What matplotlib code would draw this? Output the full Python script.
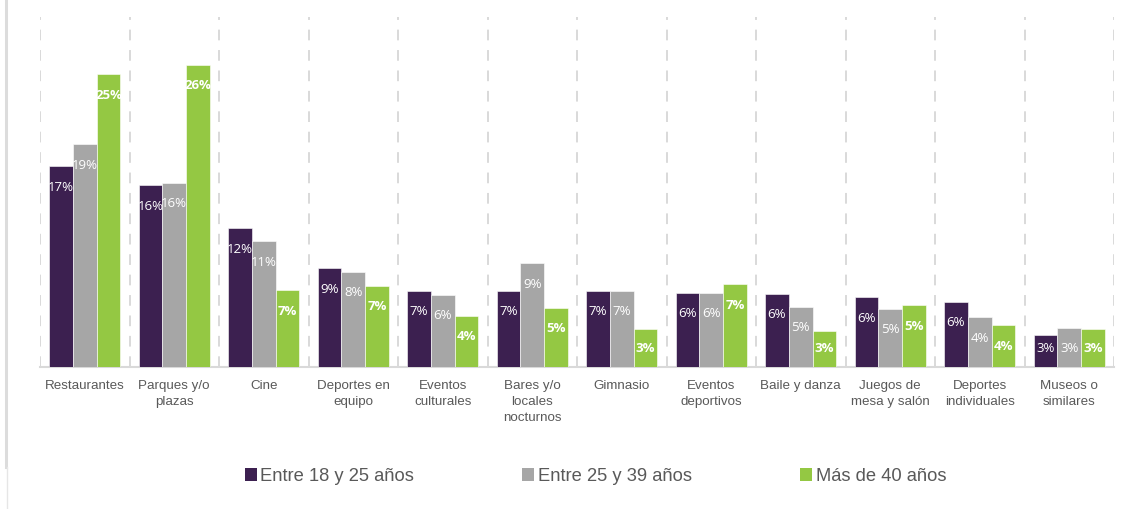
import matplotlib
matplotlib.use("Agg")
import matplotlib.pyplot as plt
from matplotlib.lines import Line2D
from matplotlib.patches import Patch
import numpy as np

categories = ["Restaurantes", "Parques y/o\nplazas", "Cine", "Deportes en\nequipo",
              "Eventos\nculturales", "Bares y/o\nlocales\nnocturnos", "Gimnasio",
              "Eventos\ndeportivos", "Baile y danza", "Juegos de\nmesa y salón",
              "Deportes\nindividuales", "Museos o\nsimilares"]
series_names = ["Entre 18 y 25 años", "Entre 25 y 39 años", "Más de 40 años"]
entre_18_25 = [17.2, 15.6, 11.9, 8.5, 6.55, 6.55, 6.55, 6.4, 6.3, 6.0, 5.6, 2.8]
entre_25_39 = [19.1, 15.8, 10.8, 8.2, 6.2, 8.9, 6.55, 6.4, 5.2, 5.0, 4.3, 3.4]
mas_40 = [25.1, 25.9, 6.6, 7.0, 4.4, 5.1, 3.3, 7.1, 3.1, 5.3, 3.6, 3.3]
labels_18_25 = ["17%", "16%", "12%", "9%", "7%", "7%", "7%", "6%", "6%", "6%", "6%", "3%"]
labels_25_39 = ["19%", "16%", "11%", "8%", "6%", "9%", "7%", "6%", "5%", "5%", "4%", "3%"]
labels_40 = ["25%", "26%", "7%", "7%", "4%", "5%", "3%", "7%", "3%", "5%", "4%", "3%"]

colors = ["#3C2050", "#A6A6A6", "#94C843"]
series = [entre_18_25, entre_25_39, mas_40]
series_labels = [labels_18_25, labels_25_39, labels_40]

W, H = 1126, 509
fig = plt.figure(figsize=(W / 100, H / 100), dpi=100)
ax_left, ax_right = 40 / W, 1114 / W
ax_bottom, ax_top = (H - 367.3) / H, (H - 17) / H
ax = fig.add_axes([ax_left, ax_bottom, ax_right - ax_left, ax_top - ax_bottom])

n = len(categories)
x = np.arange(n)
bw = 0.266
ymax = 30.0
px_per_unit = (367.3 - 17) / ymax

for k, (vals, labs, col) in enumerate(zip(series, series_labels, colors)):
    xs = x + (k - 1) * bw
    ax.bar(xs, vals, width=bw, color=col, edgecolor="white", linewidth=0.4, zorder=3)
    for xi, v, lab in zip(xs, vals, labs):
        ly = max(v - 21 / px_per_unit, 19 / px_per_unit)
        ax.text(xi, ly, lab, ha="center", va="center", color="white",
                fontsize=9.5, family=["Open Sans", "DejaVu Sans"],
                fontweight="bold" if k == 2 else "normal", zorder=4)

ax.set_xlim(-0.5, n - 0.5)
ax.set_ylim(0, ymax)
for b in np.arange(-0.5, n + 0.5, 1.0):
    ax.axvline(b, color="#D9D9D9", linestyle=(0, (5.5, 5)), linewidth=1.4, zorder=1)
for s in ["top", "right", "left"]:
    ax.spines[s].set_visible(False)
ax.spines["bottom"].set_color("#D9D9D9")
ax.spines["bottom"].set_linewidth(1.5)
ax.set_yticks([])
ax.set_xticks(x)
ax.set_xticklabels(categories, fontsize=9.6, color="#595959",
                   family=["Liberation Sans", "DejaVu Sans"], linespacing=1.4)
ax.tick_params(axis="x", length=0, pad=9.5)

# left border line
fig.add_artist(Line2D([5.5 / W, 5.5 / W], [1, (H - 467) / H], transform=fig.transFigure,
                      color="#DCDCDC", linewidth=2.2))
fig.add_artist(Line2D([6.5 / W, 6.5 / W], [(H - 467) / H, 0], transform=fig.transFigure,
                      color="#E6E6E6", linewidth=1.0))

handles = [Patch(facecolor=c, edgecolor="none") for c in colors]
leg = fig.legend(handles, series_names, loc="center", bbox_to_anchor=(595.5 / W, (H - 476.5) / H),
                 ncol=3, frameon=False, handlelength=0.65, handleheight=0.65,
                 handletextpad=0.2, columnspacing=5.9,
                 prop={"family": ["Liberation Sans", "DejaVu Sans"], "size": 13.2})
for t in leg.get_texts():
    t.set_color("#595959")

fig.savefig("out.png", dpi=100)
